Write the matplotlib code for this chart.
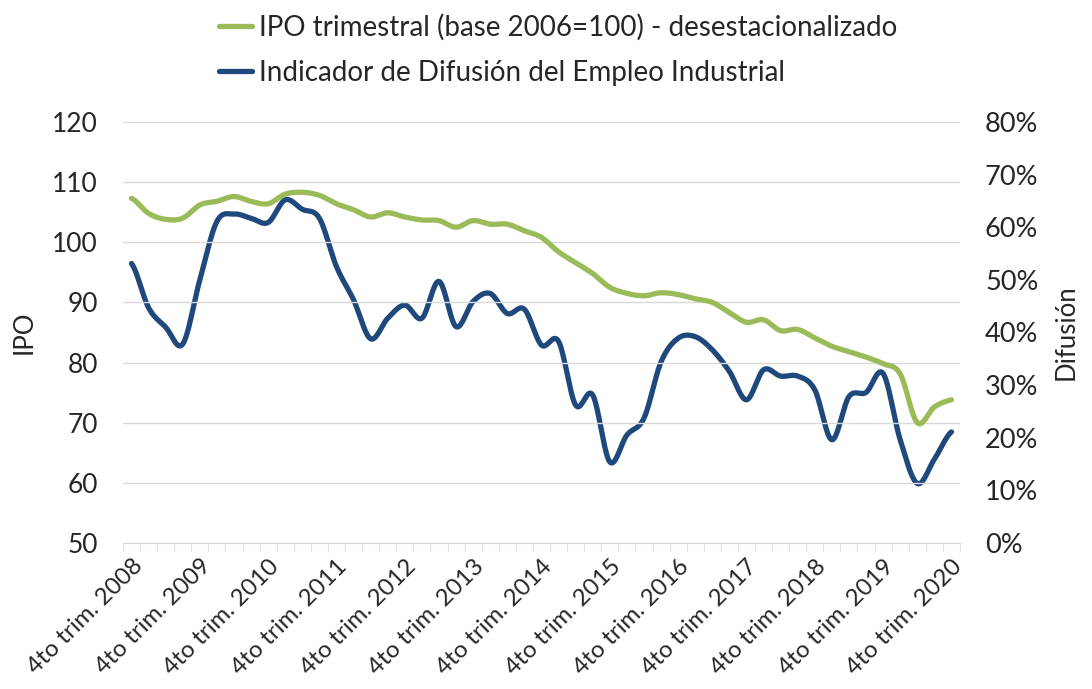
import numpy as np
import matplotlib
matplotlib.use("Agg")
import matplotlib.pyplot as plt
from matplotlib.ticker import FuncFormatter, FixedLocator

plt.rcParams["font.family"] = ["Lato", "DejaVu Sans"]

# quarters 4to trim. 2008 .. 4to trim. 2020
years = list(range(2008, 2021))
tick_labels = [f"4to trim. {y}" for y in years]

ipo = [107.3, 104.8, 103.8, 104.0, 106.2, 106.8, 107.6, 106.8, 106.4, 108.0,
       108.3, 107.8, 106.4, 105.4, 104.2, 104.9, 104.2, 103.7, 103.6, 102.5,
       103.6, 103.0, 103.0, 101.9, 100.8, 98.4, 96.6, 94.8, 92.5, 91.5,
       91.1, 91.6, 91.3, 90.6, 90.0, 88.3, 86.7, 87.1, 85.3, 85.5,
       84.1, 82.7, 81.8, 80.9, 79.8, 78.1, 70.0, 72.6, 73.8]

difusion = [53.1, 44.7, 41.0, 37.8, 50.0, 61.1, 62.5, 61.7, 60.9, 65.2,
            63.4, 61.7, 52.5, 46.2, 38.8, 42.7, 45.2, 42.7, 49.7, 41.1,
            45.9, 47.4, 43.6, 44.4, 37.6, 38.3, 26.2, 28.1, 15.4, 20.5,
            23.7, 34.4, 38.9, 39.2, 36.7, 32.6, 27.2, 32.9, 31.7, 31.7,
            29.1, 19.6, 27.8, 28.6, 32.2, 19.6, 11.3, 15.9, 21.1]

GREEN = "#9BBB59"
BLUE = "#1F497D"
GRID = "#D9D9D9"
TXT = "#262626"


def smooth(y, n=20):
    # Catmull-Rom through the points, like Excel's smoothed line
    y = np.asarray(y, dtype=float)
    p = np.concatenate([[y[0]], y, [y[-1]]])
    xs, ys = [], []
    t = np.linspace(0, 1, n, endpoint=False)
    for i in range(len(y) - 1):
        p0, p1, p2, p3 = p[i], p[i + 1], p[i + 2], p[i + 3]
        seg = 0.5 * ((2 * p1) + (-p0 + p2) * t + (2 * p0 - 5 * p1 + 4 * p2 - p3) * t ** 2
                     + (-p0 + 3 * p1 - 3 * p2 + p3) * t ** 3)
        xs.append(i + t)
        ys.append(seg)
    xs.append([len(y) - 1])
    ys.append([y[-1]])
    return np.concatenate(xs), np.concatenate(ys)


fig = plt.figure(figsize=(10.92, 6.89), dpi=100)
ax = fig.add_axes([0.1126, 0.212, 0.7665, 0.611])
ax2 = ax.twinx()

xg, yg = smooth(ipo)
xb, yb = smooth(np.array(difusion) / 100)
l2, = ax2.plot(xb, yb, color=BLUE, lw=3.8, solid_capstyle="round",
               label="Indicador de Difusión del Empleo Industrial")
l1, = ax.plot(xg, yg, color=GREEN, lw=3.8, solid_capstyle="round",
              label="IPO trimestral (base 2006=100) - desestacionalizado")
ax.set_zorder(ax2.get_zorder() + 1)
ax.patch.set_visible(False)

ax.set_xlim(-0.5, len(ipo) - 0.5)
ax.set_ylim(50, 120)
ax.set_yticks(range(50, 121, 10))
ax2.set_ylim(0, 0.8)
ax2.set_yticks(np.arange(0, 0.81, 0.1))
ax2.yaxis.set_major_formatter(FuncFormatter(lambda v, _: f"{v * 100:.0f}%"))

ax.grid(axis="y", color=GRID, lw=1)
ax.set_axisbelow(True)
for a in (ax, ax2):
    for s in a.spines.values():
        s.set_visible(False)
ax.spines["bottom"].set_visible(True)
ax.spines["bottom"].set_color(GRID)

ax.set_xticks(range(0, len(ipo), 4))
ax.set_xticklabels(tick_labels, rotation=45, ha="right", va="top",
                   rotation_mode="anchor", fontsize=17.3, color=TXT)
ax.xaxis.set_minor_locator(FixedLocator(np.arange(-0.5, len(ipo), 1)))
ax.tick_params(axis="x", which="major", length=0, pad=9)
ax.tick_params(axis="x", which="minor", length=6, color=GRID)
ax.tick_params(axis="y", length=0, labelsize=19, labelcolor=TXT, pad=18)
ax2.tick_params(axis="y", length=0, labelsize=19.5, labelcolor=TXT, pad=18)

ax.set_ylabel("IPO", fontsize=18.5, color=TXT, labelpad=11)
ax2.set_ylabel("Difusión", fontsize=18.5, color=TXT, labelpad=11)

fig.legend(handles=[l1, l2], loc="upper left", bbox_to_anchor=(0.19, 0.996),
           frameon=False, fontsize=20, handlelength=1.22, handletextpad=0.22,
           labelspacing=0.68, borderaxespad=0, labelcolor=TXT)

fig.savefig("out.png", dpi=100)
